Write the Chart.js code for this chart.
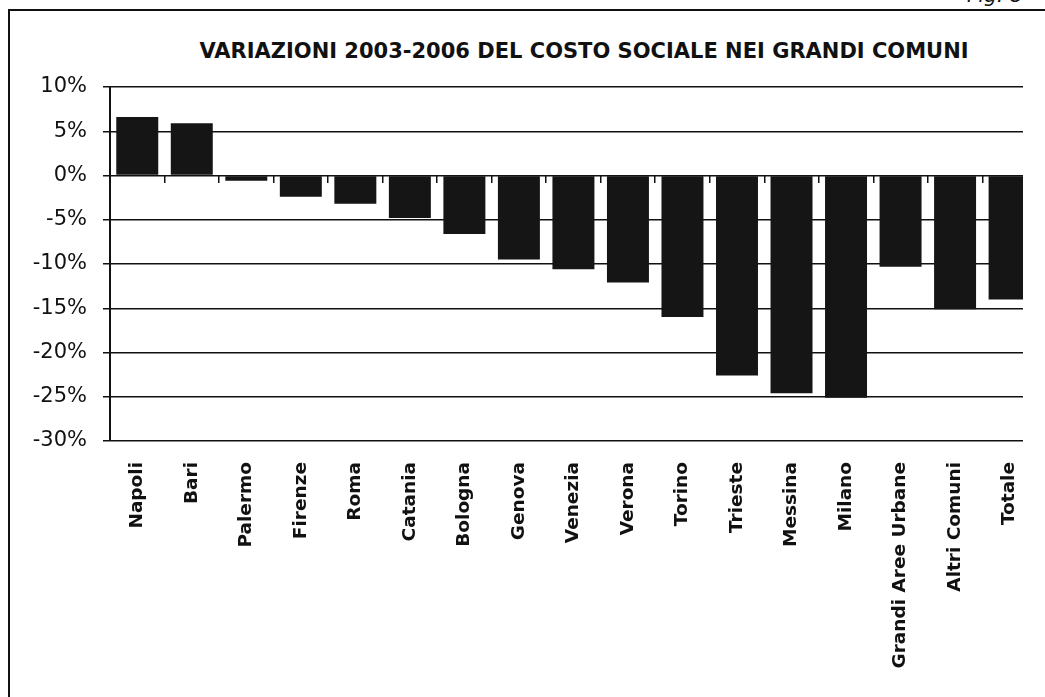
<!DOCTYPE html>
<html>
<head>
<meta charset="utf-8">
<script src="https://cdn.jsdelivr.net/npm/chart.js@4"></script>
<style>
  html, body { margin: 0; padding: 0; background: #fff; overflow: hidden; }
  #wrap { position: relative; width: 1045px; height: 697px; }
  #frame { position: absolute; left: 8px; top: 9px; width: 1100px; height: 800px; border: 2px solid #111; }
  #fig { position: absolute; left: 967px; top: -15px; font: italic 20px "DejaVu Sans"; line-height: 20px; color: #111; }
  #title { position: absolute; left: 0; width: 1168px; top: 39px; text-align: center; font: bold 21px "DejaVu Sans"; line-height: 24px; color: #111; }
  #mask { position: absolute; left: 1023px; top: 80px; width: 30px; height: 368px; background: #fff; }
  canvas { position: absolute; left: 0; top: 0; }
</style>
</head>
<body>
<div id="wrap">
  <div id="frame"></div>
  <div id="fig">Fig. 8</div>
  <div id="title">VARIAZIONI 2003-2006 DEL COSTO SOCIALE NEI GRANDI COMUNI</div>
  <canvas id="chart" width="1045" height="697"></canvas>
  <div id="mask"></div>
</div>
<script>
const cities = ["Napoli", "Bari", "Palermo", "Firenze", "Roma", "Catania", "Bologna", "Genova", "Venezia",
  "Verona", "Torino", "Trieste", "Messina", "Milano", "Grandi Aree Urbane", "Altri Comuni", "Totale"];
const variazioni = [6.6, 5.9, -0.6, -2.4, -3.2, -4.8, -6.6, -9.5, -10.6, -12.1, -16.0, -22.6, -24.6, -25.1, -10.3, -15.1, -14.0];
const yMin = -30;
const yMax = 10;
const yStep = 5;

var ctx = document.getElementById("chart").getContext("2d");

var chart = new Chart(ctx, {
  type: "bar",
  data: {
    labels: cities,
    datasets: [
      {
        data: variazioni,
        backgroundColor: "#151515",
        borderWidth: 0,
        barPercentage: 0.77,
        categoryPercentage: 1,
      },
    ],
  },
  options: {
    responsive: false,
    animation: false,
    layout: { padding: { left: 10, right: 7, top: 87, bottom: 0 } },
    plugins: { legend: { display: false }, tooltip: { enabled: false } },
    scales: {
      x: {
        offset: true,
        grid: { display: false },
        border: { display: false },
        ticks: {
          autoSkip: false,
          minRotation: 90,
          maxRotation: 90,
          padding: 13,
          color: "#111",
          font: { family: "DejaVu Sans", size: 18.5, weight: "bold" },
        },
        afterFit: function (scale) {
          scale.height = 256;
        },
      },
      // tick marks between categories along the 0% line
      x0: {
        axis: "x",
        type: "category",
        position: { y: 0 },
        offset: true,
        grid: { offset: true, drawOnChartArea: false, drawTicks: true, tickLength: 7, color: "#111", lineWidth: 1.5 },
        border: { display: false },
        ticks: { display: false },
      },
      y: {
        min: yMin,
        max: yMax,
        grid: { color: "#111", lineWidth: 1.5, tickLength: 7 },
        border: { display: true, color: "#111", width: 2 },
        ticks: {
          stepSize: yStep,
          padding: 16,
          color: "#111",
          font: { family: "DejaVu Sans", size: 21 },
          callback: function (v) {
            return v + "%";
          },
        },
        afterFit: function (scale) {
          scale.width = 100;
        },
      },
    },
  },
});
</script>
</body>
</html>
